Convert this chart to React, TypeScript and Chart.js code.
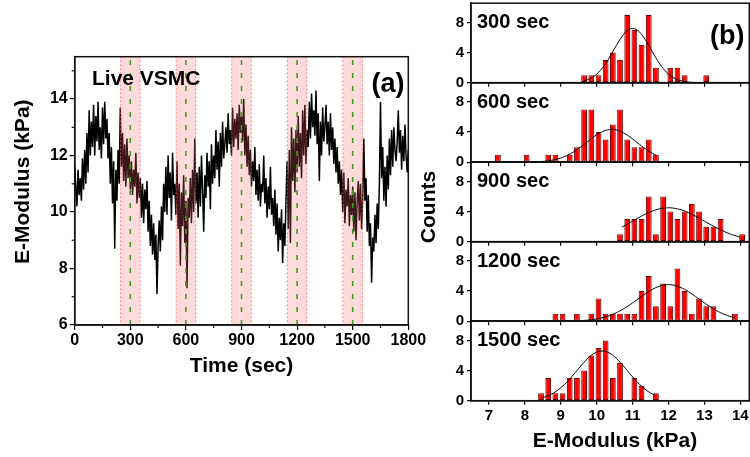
import React, { useEffect, useRef } from 'react';
import { Chart, registerables } from 'chart.js';

Chart.register(...registerables);

const FONT = "'Liberation Sans', Arial, Helvetica, sans-serif";

// ---------- Panel (a): E-modulus vs time ----------
const TIME_STEP = 6; // seconds between samples
const MODULUS = [
  11.6, 10.9, 10.2, 11.5, 10.6,
  11.2, 10.4, 11.9, 10.8, 12.2,
  11.0, 12.8, 11.4, 13.6, 12.0,
  13.2, 12.3, 13.8, 12.0, 13.4,
  12.5, 13.9, 12.2, 13.0, 11.9,
  13.7, 12.4, 13.9, 12.6, 13.3,
  11.9, 12.8, 11.0, 12.3, 10.3,
  11.8, 8.7, 11.5, 10.4, 12.2,
  11.0, 13.7, 11.6, 12.8, 11.1,
  12.4, 10.9, 12.6, 11.2, 12.0,
  10.8, 11.8, 10.6, 11.5, 10.9,
  12.1, 10.3, 11.4, 10.5, 11.2,
  9.8, 11.0, 9.6, 10.8, 10.1,
  11.1, 9.3, 10.4, 8.8, 9.9,
  8.5, 9.6, 8.3, 9.2, 7.1,
  8.8, 9.7, 8.6, 10.2, 9.0,
  11.0, 10.0, 11.6, 9.9, 12.0,
  10.5, 11.4, 9.7, 12.1, 10.6,
  11.0, 9.9, 11.8, 9.4, 11.0,
  8.1, 10.7, 9.5, 11.3, 8.9,
  10.4, 7.3, 10.5, 9.8, 11.2,
  9.6, 11.5, 10.0, 12.6, 10.3,
  11.4, 9.8, 11.6, 10.2, 12.0,
  10.8, 9.3, 11.3, 10.5, 12.1,
  10.9, 11.8, 10.1, 12.4, 11.0,
  12.0, 11.2, 12.9, 11.5, 12.5,
  10.9, 12.8, 11.6, 13.2, 11.9,
  12.4, 13.0, 12.1, 13.5, 12.4,
  12.9, 12.0, 13.7, 12.3, 13.3,
  12.6, 13.5, 12.2, 13.8, 12.8,
  13.4, 12.5, 14.0, 12.0, 13.1,
  11.6, 12.7, 11.3, 12.2, 10.9,
  11.8, 11.1, 12.3, 10.6, 11.5,
  10.4, 11.7, 10.2, 11.0, 10.7,
  12.0, 10.3, 11.2, 9.8, 10.9,
  10.1, 11.6, 9.9, 10.5, 9.5,
  10.8, 9.2, 10.3, 8.6, 9.8,
  9.0, 10.1, 8.2, 9.6, 8.8,
  10.4, 11.8, 9.4, 12.2, 8.9,
  13.0, 11.1, 12.6, 10.7, 12.9,
  11.4, 13.4, 11.6, 12.8, 11.2,
  13.6, 12.0, 13.8, 11.7, 12.9,
  12.3, 13.9, 12.6, 14.2, 13.0,
  13.6, 12.7, 14.3, 12.4, 13.5,
  11.1, 13.2, 12.0, 13.7, 12.5,
  13.0, 13.8, 12.4, 13.2, 12.0,
  13.5, 12.2, 13.0, 11.7, 12.6,
  11.4, 12.3, 11.0, 11.8, 10.6,
  11.5, 10.0, 11.4, 9.6, 10.8,
  10.2, 11.2, 9.5, 10.6, 9.9,
  10.9, 9.3, 10.7, 9.0, 10.4,
  11.1, 9.7, 11.0, 9.4, 10.5,
  12.6, 10.4, 11.2, 9.3, 10.6,
  8.8, 9.6, 7.5, 9.1, 8.6,
  9.9, 8.9, 10.3, 9.4, 11.0,
  13.9, 11.2, 12.3, 10.4, 11.6,
  10.2, 12.0, 10.8, 12.6, 11.3,
  12.9, 11.6, 13.0, 12.2, 11.8,
  12.5, 13.6, 12.1, 12.9, 11.5,
  12.7, 11.8, 13.1, 12.0, 11.4,
  12.2,
];
const TIME_TICKS = [0, 300, 600, 900, 1200, 1500, 1800];
const TIME_MINOR = [150, 450, 750, 1050, 1350, 1650];
const MOD_TICKS = [6, 8, 10, 12, 14];
const MOD_MINOR = [7, 9, 11, 13, 15];
const MARK_TIMES = [300, 600, 900, 1200, 1500];
const BAND_HALF = 55;

// ---------- Panel (b): histograms ----------
const HIST_TITLES = ['300 sec', '600 sec', '900 sec', '1200 sec', '1500 sec'];
const BINS_300 = [9.65, 9.85, 10.05, 10.25, 10.45, 10.65, 10.85, 11.05, 11.25, 11.45, 11.65, 12.05, 12.25, 12.45, 13.05];
const COUNTS_300 = [1, 1, 1, 3, 4, 3, 9, 7, 5, 9, 2, 2, 2, 1, 1];
const BINS_600 = [7.25, 8.05, 8.65, 8.85, 9.25, 9.45, 9.65, 9.85, 10.05, 10.25, 10.45, 10.65, 10.85, 11.05, 11.25, 11.45, 11.65];
const COUNTS_600 = [1, 1, 1, 1, 1, 2, 7, 7, 4, 3, 5, 7, 3, 2, 2, 3, 1];
const BINS_900 = [10.65, 10.85, 11.05, 11.25, 11.45, 11.65, 11.85, 12.05, 12.25, 12.45, 12.65, 12.85, 13.05, 13.25, 13.45, 14.05];
const COUNTS_900 = [1, 3, 3, 3, 6, 1, 6, 4, 3, 4, 5, 4, 2, 2, 3, 1];
const BINS_1200 = [8.85, 9.05, 9.45, 9.85, 10.05, 10.25, 10.45, 10.65, 10.85, 11.05, 11.25, 11.45, 11.65, 11.85, 12.05, 12.25, 12.45, 12.65, 12.85, 13.05, 13.25, 13.85];
const COUNTS_1200 = [1, 1, 1, 1, 3, 1, 1, 1, 1, 1, 4, 6, 2, 5, 2, 7, 4, 1, 3, 2, 2, 1];
const BINS_1500 = [8.45, 8.65, 8.85, 9.05, 9.25, 9.45, 9.65, 9.85, 10.05, 10.25, 10.45, 10.65, 11.05, 11.25, 11.65];
const COUNTS_1500 = [1, 3, 1, 1, 3, 3, 4, 6, 7, 8, 3, 5, 3, 2, 1];
const HIST_BINS = [BINS_300, BINS_600, BINS_900, BINS_1200, BINS_1500];
const HIST_COUNTS = [COUNTS_300, COUNTS_600, COUNTS_900, COUNTS_1200, COUNTS_1500];
// Gaussian fit parameters
const FIT_AMP = [7.2, 4.35, 4.5, 4.85, 6.6];
const FIT_MEAN = [11.0, 10.42, 12.0, 12.0, 10.15];
const FIT_SD = [0.52, 0.7, 1.0, 0.85, 0.7];
const FIT_FROM = [9.65, 7.25, 10.7, 8.85, 8.45];
const FIT_TO = [13.05, 11.65, 14.0, 13.85, 11.65];
const KPA_TICKS = [7, 8, 9, 10, 11, 12, 13, 14];
const COUNT_TICKS = [0, 4, 8];

const boldFont = (size: number) => ({ family: FONT, size, weight: 'bold' });
const plainLabel = (v: any) => String(v);

function fitCurve(k: number) {
  const pts: { x: number; y: number }[] = [];
  const a = FIT_AMP[k], mu = FIT_MEAN[k], s = FIT_SD[k];
  for (let x = FIT_FROM[k]; x <= FIT_TO[k] + 1e-9; x += 0.05) {
    pts.push({ x, y: a * Math.exp(-((x - mu) * (x - mu)) / (2 * s * s)) });
  }
  return pts;
}

function TimeChart() {
  const ref = useRef<HTMLCanvasElement>(null);
  const W = 430, H = 457;
  const A = { left: 74.7, right: 408.3, top: 56.7, bottom: 325 };
  useEffect(() => {
    const canvas = ref.current;
    if (!canvas) return;
    const overlay = {
      id: 'overlayA',
      afterDatasetsDraw(chart: any) {
        const { ctx, chartArea: ca, scales } = chart;
        const x = scales.x, y = scales.y;
        ctx.save();
        for (const t of MARK_TIMES) {
          const l = x.getPixelForValue(t - BAND_HALF);
          const r = x.getPixelForValue(t + BAND_HALF);
          ctx.fillStyle = 'rgba(255, 100, 100, 0.24)';
          ctx.fillRect(l, ca.top, r - l, ca.bottom - ca.top);
          ctx.strokeStyle = '#ff5050';
          ctx.lineWidth = 1;
          ctx.setLineDash([1, 3]);
          for (const px of [l + 0.5, r - 0.5]) {
            ctx.beginPath();
            ctx.moveTo(px, ca.top);
            ctx.lineTo(px, ca.bottom);
            ctx.stroke();
          }
          const c = x.getPixelForValue(t);
          ctx.strokeStyle = '#3f9e2a';
          ctx.lineWidth = 1.6;
          ctx.setLineDash([5, 8]);
          ctx.beginPath();
          ctx.moveTo(c, ca.bottom);
          ctx.lineTo(c, ca.top);
          ctx.stroke();
        }
        ctx.setLineDash([]);
        ctx.strokeStyle = '#111';
        ctx.lineWidth = 1.5;
        ctx.strokeRect(ca.left, ca.top, ca.right - ca.left, ca.bottom - ca.top);
        ctx.lineWidth = 1.2;
        for (const t of TIME_MINOR) {
          const px = x.getPixelForValue(t);
          ctx.beginPath();
          ctx.moveTo(px, ca.bottom);
          ctx.lineTo(px, ca.bottom + 3);
          ctx.stroke();
        }
        for (const v of MOD_MINOR) {
          const py = y.getPixelForValue(v);
          ctx.beginPath();
          ctx.moveTo(ca.left, py);
          ctx.lineTo(ca.left - 3, py);
          ctx.stroke();
        }
        ctx.fillStyle = '#000';
        ctx.textBaseline = 'alphabetic';
        ctx.textAlign = 'left';
        ctx.font = `bold 21px ${FONT}`;
        ctx.fillText('Live VSMC', 92, 85);
        ctx.font = `bold 27px ${FONT}`;
        ctx.fillText('(a)', 371.5, 92);
        ctx.font = `bold 21px ${FONT}`;
        ctx.textAlign = 'center';
        ctx.fillText('Time (sec)', (ca.left + ca.right) / 2, 372);
        ctx.translate(29, 181.7);
        ctx.rotate(-Math.PI / 2);
        ctx.fillText('E-Modulus (kPa)', 0, 0);
        ctx.restore();
      },
    };
    const chart = new Chart(canvas, {
      type: 'line',
      data: {
        datasets: [
          {
            data: MODULUS.map((v, i) => ({ x: i * TIME_STEP, y: v })),
            borderColor: '#000',
            borderWidth: 1.5,
            pointRadius: 0,
            tension: 0,
            fill: false,
          },
        ],
      },
      options: {
        responsive: false,
        animation: false,
        devicePixelRatio: 1,
        events: [],
        layout: { padding: { left: 0, top: A.top, right: W - A.right, bottom: 0 } },
        plugins: { legend: { display: false }, tooltip: { enabled: false } },
        scales: {
          x: {
            type: 'linear',
            min: 0,
            max: 1800,
            afterBuildTicks: (s: any) => {
              s.ticks = TIME_TICKS.map((v) => ({ value: v }));
            },
            afterFit: (s: any) => {
              s.height = H - A.bottom;
              s.paddingLeft = 0;
              s.paddingRight = 0;
            },
            ticks: { font: boldFont(16), color: '#000', padding: 1, maxRotation: 0, autoSkip: false, callback: plainLabel },
            grid: { display: true, drawOnChartArea: false, drawTicks: true, tickLength: 5, color: '#000', lineWidth: 1.2 },
            border: { display: true, color: '#111', width: 1.5 },
          },
          y: {
            type: 'linear',
            min: 6,
            max: 15.5,
            afterBuildTicks: (s: any) => {
              s.ticks = MOD_TICKS.map((v) => ({ value: v }));
            },
            afterFit: (s: any) => {
              s.width = A.left;
              s.paddingTop = 0;
              s.paddingBottom = 0;
            },
            ticks: { font: boldFont(16), color: '#000', padding: 2, autoSkip: false, callback: plainLabel },
            grid: { display: true, drawOnChartArea: false, drawTicks: true, tickLength: 5, color: '#000', lineWidth: 1.2 },
            border: { display: true, color: '#111', width: 1.5 },
          },
        },
      },
      plugins: [overlay],
    } as any);
    return () => chart.destroy();
  }, []);
  return <canvas ref={ref} width={W} height={H} style={{ position: 'absolute', left: 0, top: 0 }} />;
}

const HIST_LEFT_CANVAS = 400;
const HIST_W = 350;
const HIST_AREA_LEFT = 471;
const HIST_AREA_RIGHT = 749.3;
const HIST_BOTTOM0 = 82.7;
const HIST_STEP = 79.5;

function HistChart({ k }: { k: number }) {
  const ref = useRef<HTMLCanvasElement>(null);
  const isLast = k === HIST_TITLES.length - 1;
  const bottom = HIST_BOTTOM0 + k * HIST_STEP;
  const top = bottom - HIST_STEP;
  const cTop = Math.max(0, Math.floor(top) - 6);
  const cBottom = isLast ? 457 : Math.ceil(bottom + 6);
  const H = cBottom - cTop;
  useEffect(() => {
    const canvas = ref.current;
    if (!canvas) return;
    const overlay = {
      id: 'overlayB' + k,
      afterDatasetsDraw(chart: any) {
        const { ctx, chartArea: ca } = chart;
        ctx.save();
        ctx.strokeStyle = '#111';
        ctx.lineWidth = 1.5;
        ctx.strokeRect(ca.left, ca.top, ca.right - ca.left, ca.bottom - ca.top);
        ctx.fillStyle = '#000';
        ctx.textAlign = 'left';
        ctx.textBaseline = 'alphabetic';
        ctx.font = `bold 20px ${FONT}`;
        ctx.fillText(HIST_TITLES[k], 477 - HIST_LEFT_CANVAS, top + 24.8 - cTop);
        if (k === 0) {
          ctx.font = `bold 27px ${FONT}`;
          ctx.fillText('(b)', 710 - HIST_LEFT_CANVAS, 43.5 - cTop);
        }
        if (k === 2) {
          ctx.font = `bold 21px ${FONT}`;
          ctx.textAlign = 'center';
          ctx.translate(435 - HIST_LEFT_CANVAS, 207 - cTop);
          ctx.rotate(-Math.PI / 2);
          ctx.fillText('Counts', 0, 0);
        }
        if (isLast) {
          ctx.font = `bold 21px ${FONT}`;
          ctx.textAlign = 'center';
          ctx.fillText('E-Modulus (kPa)', 615 - HIST_LEFT_CANVAS, 447 - cTop);
        }
        ctx.restore();
      },
    };
    const bins = HIST_BINS[k];
    const counts = HIST_COUNTS[k];
    const chart = new Chart(canvas, {
      type: 'bar',
      data: {
        datasets: [
          {
            type: 'line',
            order: 0,
            data: fitCurve(k),
            borderColor: '#000',
            borderWidth: 1,
            pointRadius: 0,
            tension: 0,
            fill: false,
          },
          {
            type: 'bar',
            order: 1,
            data: bins.map((b, i) => ({ x: b, y: counts[i] })),
            backgroundColor: '#ff0000',
            borderColor: '#6a0000',
            borderWidth: 1,
            borderSkipped: false,
            barPercentage: 0.8,
            categoryPercentage: 1,
          },
        ],
      },
      options: {
        responsive: false,
        animation: false,
        devicePixelRatio: 1,
        events: [],
        layout: {
          padding: { left: 0, top: top - cTop, right: HIST_W - (HIST_AREA_RIGHT - HIST_LEFT_CANVAS), bottom: 0 },
        },
        plugins: { legend: { display: false }, tooltip: { enabled: false } },
        scales: {
          x: {
            type: 'linear',
            min: 6.5,
            max: 14.25,
            offset: false,
            afterBuildTicks: (s: any) => {
              s.ticks = KPA_TICKS.map((v) => ({ value: v }));
            },
            afterFit: (s: any) => {
              s.height = cBottom - bottom;
              s.paddingLeft = 0;
              s.paddingRight = 0;
            },
            ticks: { display: isLast, font: boldFont(15), color: '#000', padding: 2, maxRotation: 0, autoSkip: false, callback: plainLabel },
            grid: { display: true, offset: false, drawOnChartArea: false, drawTicks: true, tickLength: 4, color: '#000', lineWidth: 1.2 },
            border: { display: true, color: '#111', width: 1.5 },
          },
          y: {
            type: 'linear',
            min: 0,
            max: 10.55,
            afterBuildTicks: (s: any) => {
              s.ticks = COUNT_TICKS.map((v) => ({ value: v }));
            },
            afterFit: (s: any) => {
              s.width = HIST_AREA_LEFT - HIST_LEFT_CANVAS;
              s.paddingTop = 0;
              s.paddingBottom = 0;
            },
            ticks: { font: boldFont(15), color: '#000', padding: 3, autoSkip: false, callback: plainLabel },
            grid: { display: true, drawOnChartArea: false, drawTicks: true, tickLength: 4, color: '#000', lineWidth: 1.2 },
            border: { display: true, color: '#111', width: 1.5 },
          },
        },
      },
      plugins: [overlay],
    } as any);
    return () => chart.destroy();
  }, [k]);
  return (
    <canvas
      ref={ref}
      width={HIST_W}
      height={H}
      style={{ position: 'absolute', left: HIST_LEFT_CANVAS, top: cTop }}
    />
  );
}

export default function App() {
  return (
    <div
      style={{
        position: 'absolute',
        left: 0,
        top: 0,
        width: 750,
        height: 457,
        background: '#fff',
        overflow: 'hidden',
      }}
    >
      <TimeChart />
      {HIST_TITLES.map((_, k) => (
        <HistChart key={k} k={k} />
      ))}
    </div>
  );
}
